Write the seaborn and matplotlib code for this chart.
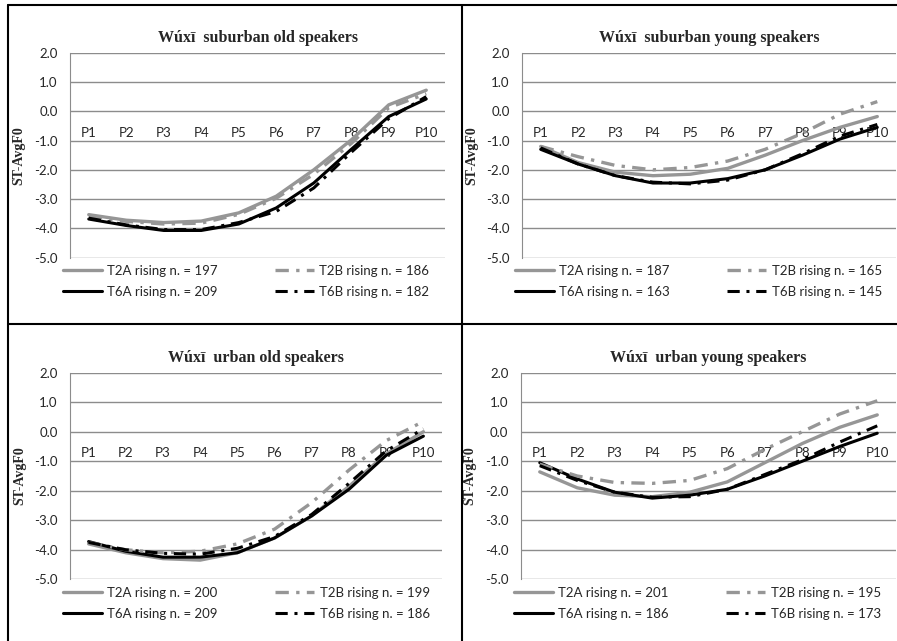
import seaborn as sns
import matplotlib.pyplot as plt
from matplotlib.lines import Line2D

sns.set_style("white")
plt.rcParams['font.family'] = ['Lato', 'DejaVu Sans']

# Categories (measurement points)
points = ["P1", "P2", "P3", "P4", "P5", "P6", "P7", "P8", "P9", "P10"]

# Panel titles
titles = ["Wúxī  suburban old speakers", "Wúxī  suburban young speakers",
          "Wúxī  urban old speakers", "Wúxī  urban young speakers"]

# suburban old
sub_old_t2a = [-3.53, -3.72, -3.8, -3.75, -3.47, -2.9, -2.0, -0.98, 0.22, 0.72]
sub_old_t2b = [-3.6, -3.76, -3.85, -3.82, -3.52, -2.97, -2.15, -1.1, 0.12, 0.6]
sub_old_t6a = [-3.68, -3.9, -4.07, -4.07, -3.85, -3.3, -2.45, -1.3, -0.18, 0.42]
sub_old_t6b = [-3.65, -3.88, -4.04, -4.04, -3.8, -3.42, -2.62, -1.4, -0.25, 0.5]
sub_old_n = [197, 186, 209, 182]

# suburban young
sub_young_t2a = [-1.2, -1.75, -2.08, -2.2, -2.15, -1.95, -1.5, -1.0, -0.55, -0.18]
sub_young_t2b = [-1.2, -1.55, -1.85, -2.0, -1.92, -1.7, -1.3, -0.75, -0.1, 0.33]
sub_young_t6a = [-1.3, -1.8, -2.2, -2.45, -2.45, -2.3, -2.0, -1.5, -0.95, -0.55]
sub_young_t6b = [-1.25, -1.8, -2.2, -2.42, -2.48, -2.35, -2.0, -1.45, -0.85, -0.45]
sub_young_n = [187, 165, 163, 145]

# urban old
urb_old_t2a = [-3.8, -4.1, -4.3, -4.35, -4.1, -3.6, -2.85, -1.85, -0.75, 0.0]
urb_old_t2b = [-3.75, -4.0, -4.1, -4.05, -3.8, -3.3, -2.4, -1.3, -0.3, 0.35]
urb_old_t6a = [-3.72, -4.05, -4.25, -4.25, -4.1, -3.6, -2.85, -1.95, -0.8, -0.15]
urb_old_t6b = [-3.75, -4.0, -4.12, -4.15, -3.95, -3.55, -2.8, -1.75, -0.65, 0.1]
urb_old_n = [200, 199, 209, 186]

# urban young
urb_young_t2a = [-1.36, -1.9, -2.15, -2.2, -2.05, -1.7, -1.05, -0.4, 0.15, 0.57]
urb_young_t2b = [-1.1, -1.5, -1.72, -1.75, -1.65, -1.25, -0.6, 0.0, 0.6, 1.05]
urb_young_t6a = [-1.05, -1.6, -2.05, -2.25, -2.15, -1.95, -1.5, -1.0, -0.5, -0.05]
urb_young_t6b = [-1.15, -1.65, -2.05, -2.22, -2.2, -1.95, -1.45, -0.95, -0.35, 0.2]
urb_young_n = [201, 195, 186, 173]

panels = [
    (sub_old_t2a, sub_old_t2b, sub_old_t6a, sub_old_t6b, sub_old_n),
    (sub_young_t2a, sub_young_t2b, sub_young_t6a, sub_young_t6b, sub_young_n),
    (urb_old_t2a, urb_old_t2b, urb_old_t6a, urb_old_t6b, urb_old_n),
    (urb_young_t2a, urb_young_t2b, urb_young_t6a, urb_young_t6b, urb_young_n),
]

W, H = 897, 641
fig = plt.figure(figsize=(W / 100, H / 100), dpi=100)
fig.patch.set_facecolor("white")

# axes boxes in pixels: left, right, top, bottom
boxes = [(70, 445, 52.7, 257.7), (522, 896, 52.7, 257.7),
         (70, 442, 372.7, 579.3), (521, 896, 372.7, 579.3)]

gray = "#969696"
dashdot = (0, (4, 2.2, 1, 2.2))

for (l, r, t, b), title, (t2a, t2b, t6a, t6b, ns) in zip(boxes, titles, panels):
    ax = fig.add_axes([l / W, 1 - b / H, (r - l) / W, (b - t) / H])
    series = [
        (t2a, gray, "-", 2.4, f"T2A rising n. = {ns[0]}"),
        (t6a, "black", "-", 2.2, f"T6A rising n. = {ns[2]}"),
        (t2b, gray, dashdot, 2.4, f"T2B rising n. = {ns[1]}"),
        (t6b, "black", dashdot, 2.2, f"T6B rising n. = {ns[3]}"),
    ]
    for vals, col, ls, lw, lab in series:
        sns.lineplot(x=points, y=vals, ax=ax, color=col, linestyle=ls,
                     linewidth=lw, label=lab, sort=False)

    ax.set_ylim(-5, 2)
    ax.set_xlim(-0.5, 9.5)
    ax.set_yticks(range(-5, 3))
    ax.set_yticklabels([f"{v:.1f}" for v in range(-5, 3)])
    ax.yaxis.grid(True, color="#8c8c8c", linewidth=1)
    ax.xaxis.grid(False)
    for s in ["top", "right", "bottom"]:
        ax.spines[s].set_visible(False)
    ax.spines["left"].set_color("#8c8c8c")
    ax.spines["bottom"].set_position(("data", 0))
    ax.tick_params(axis="y", length=0, pad=9, labelsize=9.5)
    ax.tick_params(axis="x", length=0, pad=11, labelsize=9.5)
    ax.set_xlabel("")
    ax.set_ylabel("ST-AvgF0", fontsize=10, fontweight="bold",
                  family="Liberation Serif")
    ax.yaxis.set_label_coords(-0.118, 0.5)
    ax.set_title(title, fontsize=11.5, fontweight="bold",
                 family="Liberation Serif", pad=8)
    ax.legend(ncol=2, loc="upper left", bbox_to_anchor=(-0.02, -0.035),
              frameon=False, fontsize=9.5, handlelength=3.0, handletextpad=0.4,
              columnspacing=4.3, labelspacing=0.7, borderpad=0,
              borderaxespad=0)

# table borders
lc = "black"
fig.add_artist(Line2D([8 / W, 8 / W], [0, 1 - 5 / H], transform=fig.transFigure, color=lc, lw=1.5))
fig.add_artist(Line2D([8 / W, 1], [1 - 5 / H, 1 - 5 / H], transform=fig.transFigure, color=lc, lw=1.5))
fig.add_artist(Line2D([461.5 / W, 461.5 / W], [0, 1 - 5 / H], transform=fig.transFigure, color=lc, lw=1.5))
fig.add_artist(Line2D([8 / W, 1], [1 - 323.5 / H, 1 - 323.5 / H], transform=fig.transFigure, color=lc, lw=1.5))

fig.savefig("out.png", dpi=100)
